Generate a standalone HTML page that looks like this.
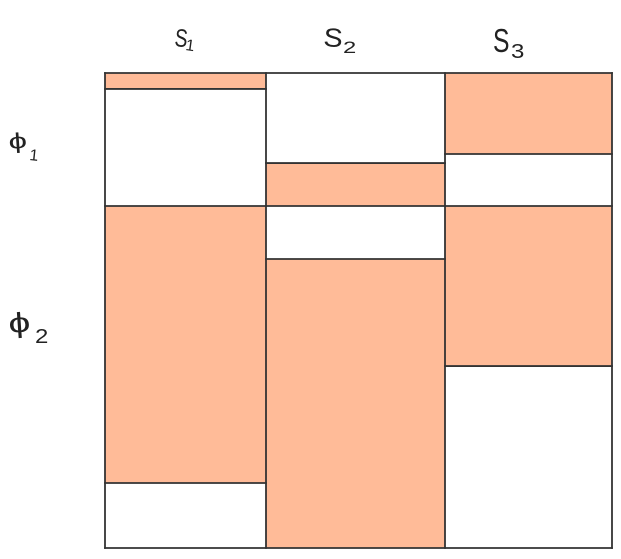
<!DOCTYPE html>
<html lang="en">
<head>
<meta charset="utf-8">
<title>Mosaic sketch</title>
<style>
  html, body { margin: 0; padding: 0; background: #ffffff; }
  body { width: 621px; height: 559px; overflow: hidden; }
  svg { display: block; }
  .label { font-family: "Liberation Sans", "DejaVu Sans", sans-serif; fill: #222222; }
</style>
</head>
<body>
<svg id="chart" width="621" height="559" viewBox="0 0 621 559" xmlns="http://www.w3.org/2000/svg">
  <g id="cells"></g>
  <g>
    <text class="label" transform="translate(174,46) rotate(6) scale(0.8,1.05)" font-size="24">S</text>
    <text class="label" transform="translate(185,50) rotate(8)" font-size="16">1</text>
    <text class="label" transform="translate(323,46) rotate(4) scale(1.15,1.05)" font-size="25">S</text>
    <text class="label" transform="translate(343,53) scale(1.4,1)" font-size="17">2</text>
    <text class="label" transform="translate(493,52) scale(0.95,1.3)" font-size="26">S</text>
    <text class="label" transform="translate(511,58) scale(1.2,1)" font-size="20">3</text>
  </g>
  <g>
    <text class="label" transform="translate(9,149) rotate(-4) scale(1.5,1)" font-size="22">ϕ</text>
    <text class="label" transform="translate(29,160) rotate(6)" font-size="16">1</text>
    <text class="label" transform="translate(9,333) rotate(-4) scale(1.4,1)" font-size="28">ϕ</text>
    <text class="label" transform="translate(35,343) scale(1.2,1)" font-size="20">2</text>
  </g>
</svg>
<script>
// Data
const columns = ['s1', 's2', 's3'];
const rows = ['phi1', 'phi2'];
const columnWeights = [161, 179, 167];
const rowWeights = [133, 342];
const shadedShareRow1 = [0.12, 0.323, 0.609];
const shadedShareRow2 = [0.81, 0.845, 0.468];
const shadedSideRow1 = ['top', 'bottom', 'top'];
const shadedSideRow2 = ['top', 'bottom', 'top'];

// Plot frame
const plotLeft = 105, plotRight = 612, plotTop = 73, plotBottom = 548;
const shadeColor = '#FFBB98';
const lineColor = '#333333';
const svgNS = 'http://www.w3.org/2000/svg';
const group = document.getElementById('cells');

const sum = a => a.reduce((t, v) => t + v, 0);
const xAt = i => plotLeft + (plotRight - plotLeft) * sum(columnWeights.slice(0, i)) / sum(columnWeights);
const yAt = j => plotTop + (plotBottom - plotTop) * sum(rowWeights.slice(0, j)) / sum(rowWeights);

function addRect(x, y, w, h, fill) {
  const el = document.createElementNS(svgNS, 'rect');
  el.setAttribute('x', x);
  el.setAttribute('y', y);
  el.setAttribute('width', w);
  el.setAttribute('height', h);
  el.setAttribute('fill', fill);
  group.appendChild(el);
  return el;
}

function addLine(x1, y1, x2, y2) {
  const el = document.createElementNS(svgNS, 'line');
  el.setAttribute('x1', x1);
  el.setAttribute('y1', y1);
  el.setAttribute('x2', x2);
  el.setAttribute('y2', y2);
  el.setAttribute('stroke', lineColor);
  el.setAttribute('stroke-width', '1.8');
  el.setAttribute('stroke-linecap', 'square');
  
  
  group.appendChild(el);
  return el;
}

const shares = [shadedShareRow1, shadedShareRow2];
const sides = [shadedSideRow1, shadedSideRow2];
const dividers = [];

rows.forEach((rowName, j) => {
  const y0 = yAt(j), y1 = yAt(j + 1), h = y1 - y0;
  columns.forEach((colName, i) => {
    const x0 = xAt(i), x1 = xAt(i + 1);
    const shadedH = h * shares[j][i];
    const top = sides[j][i] === 'top' ? y0 : y1 - shadedH;
    const cell = addRect(x0, top, x1 - x0, shadedH, shadeColor);
    
    
    const splitY = sides[j][i] === 'top' ? y0 + shadedH : y1 - shadedH;
    dividers.push([x0, splitY, x1, splitY]);
  });
});

dividers.forEach(d => addLine(d[0], d[1], d[2], d[3]));
columns.forEach((c, i) => addLine(xAt(i), plotTop, xAt(i), plotBottom));
addLine(plotRight, plotTop, plotRight, plotBottom);
rows.forEach((r, j) => addLine(plotLeft, yAt(j), plotRight, yAt(j)));
addLine(plotLeft, plotBottom, plotRight, plotBottom);
</script>
</body>
</html>
